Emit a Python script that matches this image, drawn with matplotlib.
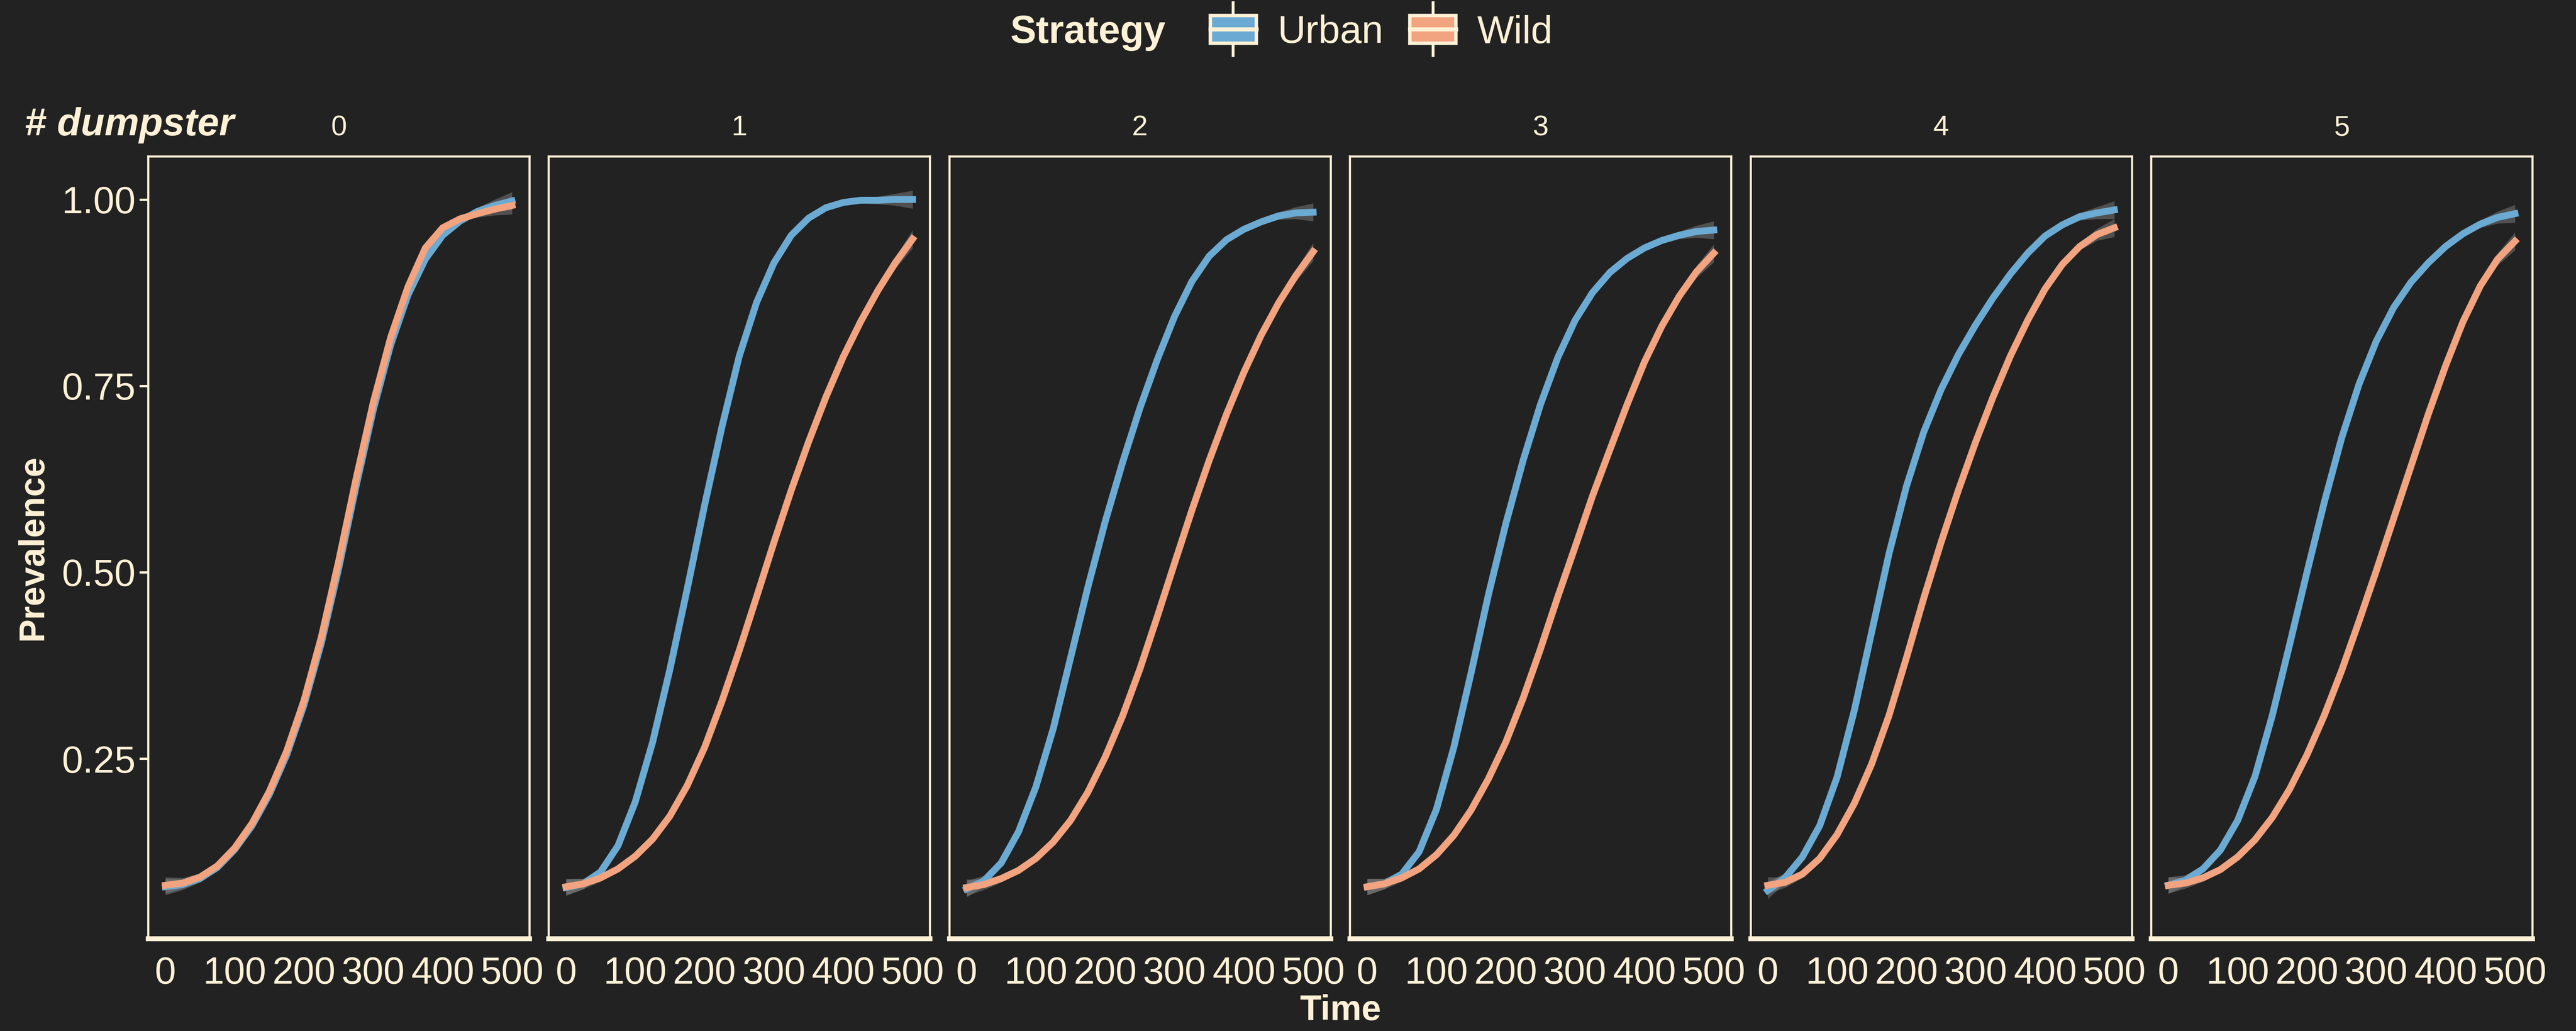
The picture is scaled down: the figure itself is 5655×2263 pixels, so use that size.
import numpy as np
import matplotlib
matplotlib.use("Agg")
import matplotlib.pyplot as plt
from matplotlib.legend_handler import HandlerBase
from matplotlib.patches import Patch, Rectangle
from matplotlib.lines import Line2D

plt.rcParams['font.family'] = ['Liberation Sans', 'DejaVu Sans']

# data (prevalence per time step, one list per panel)
time = [0, 25, 50, 75, 100, 125, 150, 175, 200, 225, 250,
        275, 300, 325, 350, 375, 400, 425, 450, 475, 500]

dumpsters = ['0', '1', '2', '3', '4', '5']

urban_0 = [.078, .081, .089, .104, .128, .160, .202, .255, .322, .405, .505,
           .615, .718, .805, .872, .920, .952, .971, .984, .992, .998]
wild_0 = [.080, .083, .091, .106, .130, .163, .206, .260, .328, .413, .515,
          .625, .728, .815, .883, .935, .962, .974, .981, .987, .992]

urban_1 = [.077, .082, .098, .133, .192, .272, .370, .478, .590, .695, .790,
           .862, .915, .952, .975, .989, .996, .999, .999, 1.0, 1.0]
wild_1 = [.078, .082, .090, .102, .119, .142, .173, .214, .265, .327, .395,
          .467, .540, .610, .675, .735, .789, .836, .878, .915, .947]

urban_2 = [.075, .086, .110, .152, .212, .290, .385, .480, .568, .647, .720,
           .785, .843, .890, .924, .946, .960, .970, .978, .982, .983]
wild_2 = [.077, .081, .089, .100, .116, .138, .167, .205, .252, .307, .370,
          .440, .512, .583, .650, .712, .768, .818, .861, .898, .930]

urban_3 = [.078, .082, .095, .125, .182, .265, .365, .470, .565, .650, .725,
           .788, .838, .875, .902, .921, .935, .945, .952, .957, .959]
wild_3 = [.078, .082, .090, .102, .121, .147, .181, .223, .272, .331, .397,
          .467, .534, .602, .664, .725, .782, .830, .870, .903, .928]

urban_4 = [.073, .090, .118, .160, .225, .315, .420, .525, .615, .688, .745,
           .792, .832, .868, .900, .928, .951, .966, .977, .982, .986]
wild_4 = [.080, .084, .095, .116, .148, .190, .243, .308, .385, .465, .540,
          .610, .675, .735, .790, .838, .880, .913, .937, .953, .962]

urban_5 = [.080, .087, .102, .127, .167, .226, .308, .403, .500, .594, .680,
           .752, .810, .855, .889, .915, .937, .954, .967, .976, .981]
wild_5 = [.080, .083, .090, .101, .118, .141, .171, .209, .255, .308, .368,
          .434, .502, .572, .642, .712, .777, .836, .884, .920, .944]

# half width of the smoother's confidence band
se_band = [.011, .007, .005, .003, .002, .002, .002, .002, .002, .002, .002,
           .002, .002, .002, .002, .002, .003, .004, .005, .008, .012]

urban = [urban_0, urban_1, urban_2, urban_3, urban_4, urban_5]
wild = [wild_0, wild_1, wild_2, wild_3, wild_4, wild_5]

bg = '#222222'
cream = '#FFF1D6'
blue = '#6BAAD2'
orange = '#F2A37F'

W, H, dpi = 5655, 2263, 300
fig = plt.figure(figsize=(W / dpi, H / dpi), dpi=dpi, facecolor=bg)

left0 = 325 / W
step = 879.4 / W
pw = 837 / W
bottom = 1 - 2060 / H
ph = (2060 - 343) / H

se = np.array(se_band)
for i in range(6):
    ax = fig.add_axes([left0 + i * step, bottom, pw, ph])
    ax.set_facecolor(bg)
    for vals, col in [(urban[i], blue), (wild[i], orange)]:
        v = np.array(vals)
        ax.fill_between(time, v - se, v + se, color='#8a8a8a', alpha=0.45, lw=0)
        ax.plot(time, v, color=col, lw=3.6, solid_joinstyle='round')
    ax.set_xlim(-25, 525)
    ax.set_ylim(0.0086, 1.058)
    ax.set_xticks([0, 100, 200, 300, 400, 500])
    ax.set_yticks([0.25, 0.50, 0.75, 1.00])
    ax.tick_params(axis='x', length=0, pad=9, labelsize=20, labelcolor=cream)
    if i == 0:
        ax.set_yticklabels(['0.25', '0.50', '0.75', '1.00'])
        ax.tick_params(axis='y', length=4.5, width=1.2, color=cream, pad=2,
                       labelsize=20, labelcolor=cream)
    else:
        ax.tick_params(axis='y', length=0, labelleft=False)
    for side, sp in ax.spines.items():
        sp.set_color(cream)
        sp.set_linewidth(1.1)
    ax.spines['bottom'].set_linewidth(2.6)
    fig.text(left0 + i * step + pw / 2, 1 - 297 / H, dumpsters[i],
             ha='center', va='baseline', fontsize=15, color=cream)

fig.text(54 / W, 1 - 297 / H, '# dumpster', ha='left', va='baseline',
         fontsize=20.5, fontweight='bold', fontstyle='italic', color=cream)
fig.text(72 / W, 1 - 1201 / H, 'Prevalence', rotation=90, ha='center', va='center',
         fontsize=18.5, fontweight='bold', color=cream)
fig.text(2942 / W, 1 - 2218 / H, 'Time', ha='center', va='center',
         fontsize=18.5, fontweight='bold', color=cream)


# legend keys look like little boxplots in the original
class BoxKey(HandlerBase):
    def create_artists(self, legend, orig_handle, xdescent, ydescent,
                       width, height, fontsize, trans):
        x0, y0 = -xdescent, -ydescent
        cx = x0 + width / 2
        whisk = Line2D([cx, cx], [y0 - 0.45 * height, y0 + 1.45 * height],
                       color=cream, lw=1.5, transform=trans)
        box = Rectangle((x0, y0), width, height,
                        facecolor=orig_handle.get_facecolor(),
                        edgecolor=cream, lw=1.8, transform=trans)
        med = Line2D([x0, x0 + width], [y0 + height / 2] * 2,
                     color=cream, lw=2.2, transform=trans)
        return [whisk, box, med]


fig.text(2218 / W, 1 - 72 / H, 'Strategy', ha='left', va='center',
         fontsize=20.5, fontweight='bold', color=cream)
handles = [Patch(facecolor=blue), Patch(facecolor=orange)]
fig.legend(handles, ['Urban', 'Wild'], handler_map={Patch: BoxKey()},
           loc='center', bbox_to_anchor=(3033 / W, 1 - 72 / H), ncol=2,
           frameon=False, fontsize=20.5, labelcolor=cream,
           handlelength=1.18, handleheight=0.72, handletextpad=0.55,
           columnspacing=0.68, borderpad=0, borderaxespad=0)

fig.savefig('out.png', dpi=dpi, facecolor=bg)
